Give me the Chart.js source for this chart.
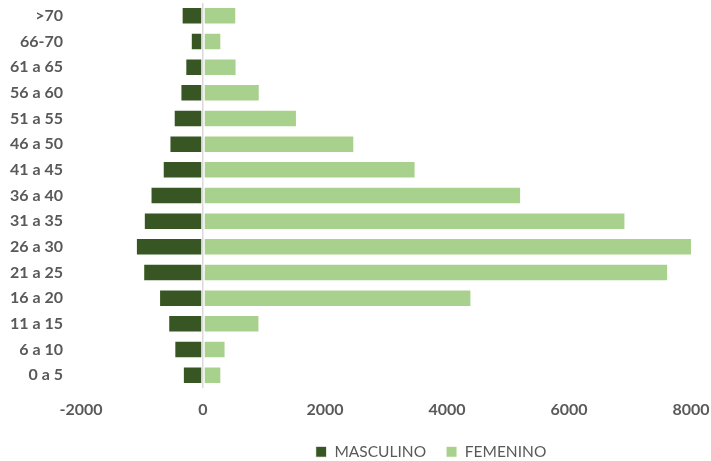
<!DOCTYPE html>
<html>
<head>
<meta charset="utf-8">
<script src="https://cdn.jsdelivr.net/npm/chart.js@4"></script>
<style>
  html, body { margin: 0; padding: 0; background: #fff; }
  #wrap { width: 711px; height: 461px; }
</style>
</head>
<body>
<div id="wrap"><canvas id="piramide"></canvas></div>
<script>
// grupos de edad, de arriba hacia abajo
const edades = [">70", "66-70", "61 a 65", "56 a 60", "51 a 55", "46 a 50", "41 a 45", "36 a 40",
  "31 a 35", "26 a 30", "21 a 25", "16 a 20", "11 a 15", "6 a 10", "0 a 5"];
const masculino = [-350, -200, -290, -370, -480, -550, -660, -860, -970, -1100, -980, -720, -570, -470, -330];
const femenino = [545, 300, 550, 930, 1540, 2480, 3485, 5215, 6925, 8040, 7625, 4400, 925, 370, 300];
const ticksX = [-2000, 0, 2000, 4000, 6000, 8000];

const gris = "#595959";
const fuente = "Lato, 'Liberation Sans', sans-serif";

// quita el relleno automatico de las escalas
const sinRelleno = (s) => {
  s.paddingTop = 0;
  s.paddingBottom = 0;
  s.paddingLeft = 0;
  s.paddingRight = 0;
};

// coloca la leyenda como en el original
const moverLeyenda = {
  id: "moverLeyenda",
  afterLayout(chart) {
    const l = chart.legend;
    const w = l.right - l.left;
    const h = l.bottom - l.top;
    l.left = 431 - w / 2;
    l.right = l.left + w;
    l.top = 424;
    l.bottom = l.top + h;
  },
};

const config = {
  type: "bar",
  data: {
    labels: edades,
    datasets: [
      {
        label: "MASCULINO",
        data: masculino,
        backgroundColor: "#375623",
        borderColor: "#ffffff",
        borderWidth: 1,
        borderSkipped: false,
      },
      {
        label: "FEMENINO",
        data: femenino,
        backgroundColor: "#a9d18e",
        borderColor: "#ffffff",
        borderWidth: 1,
        borderSkipped: false,
      },
    ],
  },
  options: {
    indexAxis: "y",
    responsive: true,
    maintainAspectRatio: false,
    animation: false,
    barPercentage: 0.68,
    categoryPercentage: 1,
    layout: { padding: { top: 3, right: 20, left: 0, bottom: 0 } },
    scales: {
      x: {
        stacked: true,
        min: -2000,
        max: 8000,
        afterBuildTicks: (s) => { s.ticks = ticksX.map((v) => ({ value: v })); },
        border: { display: false },
        grid: {
          drawTicks: false,
          color: (c) => (c.tick && c.tick.value === 0 ? "#d9d9d9" : "rgba(0,0,0,0)"),
          lineWidth: 1.5,
        },
        ticks: {
          padding: 12.5,
          color: gris,
          font: { family: fuente, size: 16, weight: "bold" },
          callback: (v) => String(v),
        },
        afterFit: (s) => { sinRelleno(s); s.height = 27.5; },
      },
      y: {
        stacked: true,
        border: { display: false },
        grid: { display: false, drawTicks: false },
        ticks: {
          padding: 18,
          color: gris,
          font: { family: fuente, size: 16, weight: "bold" },
        },
        afterFit: (s) => { sinRelleno(s); s.width = 81; },
      },
    },
    plugins: {
      legend: {
        position: "bottom",
        labels: {
          boxWidth: 11,
          boxHeight: 11,
          padding: 20,
          color: gris,
          font: { family: fuente, size: 15.5 },
        },
      },
      tooltip: { enabled: false },
    },
  },
  plugins: [moverLeyenda],
};

const ctx = document.getElementById("piramide").getContext("2d");
window.miPiramide = new Chart(ctx, config);
</script>
</body>
</html>
